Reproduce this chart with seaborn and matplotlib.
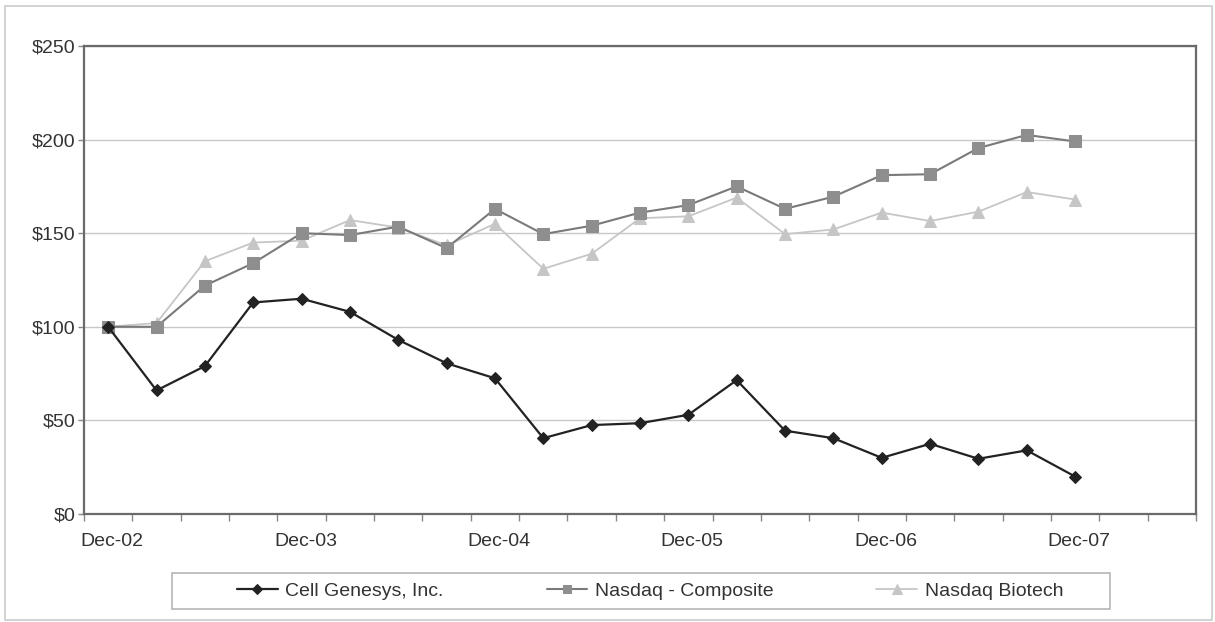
import numpy as np
import pandas as pd
import matplotlib
matplotlib.use("Agg")
import matplotlib.pyplot as plt
import matplotlib.transforms as mtransforms
import seaborn as sns
from matplotlib.ticker import FixedLocator, FuncFormatter
from matplotlib.patches import Rectangle

periods = ["Dec-02", "Mar-03", "Jun-03", "Sep-03", "Dec-03", "Mar-04", "Jun-04",
           "Sep-04", "Dec-04", "Mar-05", "Jun-05", "Sep-05", "Dec-05", "Mar-06",
           "Jun-06", "Sep-06", "Dec-06", "Mar-07", "Jun-07", "Sep-07", "Dec-07"]
tick_labels = ["Dec-02", "Dec-03", "Dec-04", "Dec-05", "Dec-06", "Dec-07"]

cell_genesys = [100, 66, 79, 113, 115, 108, 93, 80.5, 72.5, 40.5, 47.5, 48.5,
                53, 71.5, 44.5, 40.5, 30, 37.5, 29.5, 34, 20]
nasdaq_composite = [100, 100, 122, 134, 150, 149, 153.5, 142, 163, 149.5, 154,
                    161, 165, 175, 163, 169.5, 181, 181.5, 195.5, 202.5, 199]
nasdaq_biotech = [100, 102, 135, 145, 146, 157, 153, 143.5, 155, 131, 139,
                  158, 159, 169, 149.5, 152, 161, 156.5, 161.5, 172, 168]

series_names = ["Cell Genesys, Inc.", "Nasdaq - Composite", "Nasdaq Biotech"]

sns.set_theme(style="white")
plt.rcParams["font.family"] = ["Liberation Sans", "DejaVu Sans"]

W, H = 1215, 622
fig = plt.figure(figsize=(W / 100, H / 100), dpi=100)
ax = fig.add_axes([84 / W, 1 - 514 / H, (1196 - 84) / W, (514 - 46) / H])

x = np.arange(len(periods))
df = pd.DataFrame({"x": x, "Cell": cell_genesys, "Comp": nasdaq_composite, "Bio": nasdaq_biotech})

styles = [
    ("Bio", series_names[2], "#c6c6c6", "#c6c6c6", "^", 9, 1.3),
    ("Comp", series_names[1], "#7a7a7a", "#8e8e8e", "s", 8, 1.5),
    ("Cell", series_names[0], "#222222", "#222222", "D", 6.5, 1.6),
]
for col, name, lc, mc, mk, ms, lw in styles:
    sns.lineplot(data=df, x="x", y=col, ax=ax, color=lc, linewidth=lw,
                 marker=mk, markersize=ms, markerfacecolor=mc,
                 markeredgecolor=mc, label=name, legend=False)

ax.set_xlim(-0.5, 22.5)
ax.set_ylim(0, 250)
ax.set_xlabel("")
ax.set_ylabel("")

FS = 14
ax.set_yticks([0, 50, 100, 150, 200, 250])
ax.yaxis.set_major_formatter(FuncFormatter(lambda v, p: f"${int(v)}"))
ax.grid(axis="y", color="#c8c8c8", linewidth=1.0)
ax.grid(axis="x", visible=False)

label_pos = [periods.index(t) for t in tick_labels]
ax.xaxis.set_major_locator(FixedLocator(label_pos))
ax.set_xticklabels(tick_labels)
ax.xaxis.set_minor_locator(FixedLocator(np.arange(-0.5, 23.0, 1.0)))
ax.tick_params(axis="x", which="major", length=0, pad=14, labelsize=FS, labelcolor="#333333")
ax.tick_params(axis="x", which="minor", length=5, width=1, color="#888888", direction="out", bottom=True)
ax.tick_params(axis="y", which="major", length=4, width=1, color="#888888", direction="out",
               left=True, labelsize=FS, labelcolor="#333333", pad=2)

shift = mtransforms.ScaledTranslation(4 / 100, 0, fig.dpi_scale_trans)
for lbl in ax.get_xticklabels():
    lbl.set_transform(lbl.get_transform() + shift)

for s in ax.spines.values():
    s.set_color("#6a6a6a")
    s.set_linewidth(1.6)
    s.set_visible(True)

# legend (frameless) plus its box drawn separately
line_handles, line_labels = ax.get_legend_handles_labels()
order = [line_labels.index(n) for n in series_names]
leg = fig.legend([line_handles[i] for i in order], [line_labels[i] for i in order],
                 loc="center", bbox_to_anchor=(650 / W, 1 - 591 / H), ncol=3,
                 frameon=False, fontsize=FS,
                 handlelength=2.1, columnspacing=5.3, handletextpad=0.38,
                 borderpad=0.2, markerscale=0.75)
for t in leg.get_texts():
    t.set_color("#333333")

fig.patches.append(Rectangle((172 / W, 1 - 609 / H), (1110 - 172) / W, 36 / H,
                             transform=fig.transFigure, fill=False,
                             edgecolor="#b5b5b5", linewidth=1.2))

# outer figure frame
fig.patches.append(Rectangle((5 / W, 1 - 620 / H), 1207 / W, 614 / H,
                             transform=fig.transFigure, fill=False,
                             edgecolor="#cccccc", linewidth=1.2))

fig.savefig("out.png", dpi=100)
